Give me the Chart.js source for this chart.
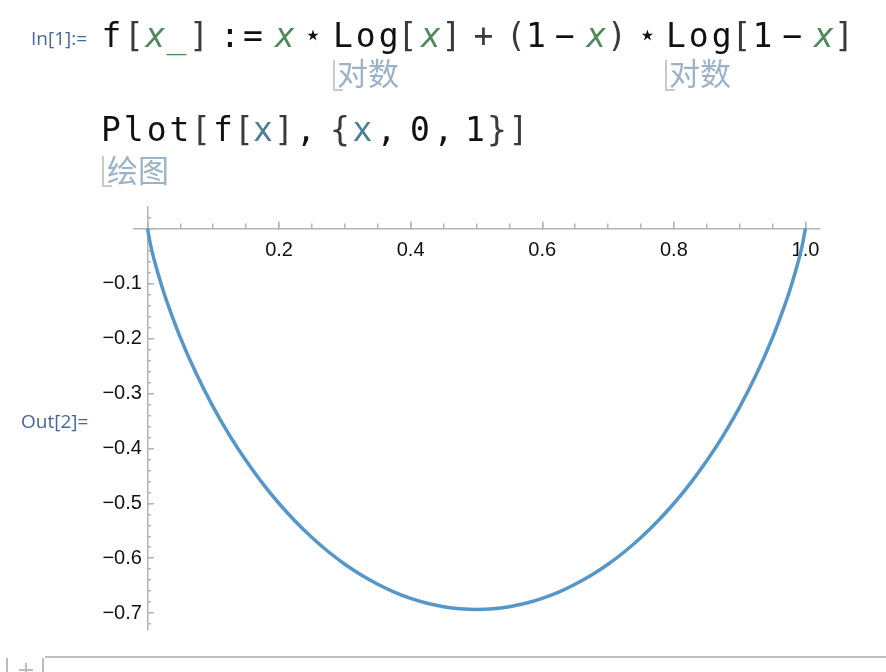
<!DOCTYPE html>
<html>
<head>
<meta charset="utf-8">
<script src="https://cdn.jsdelivr.net/npm/chart.js@4.4.1/dist/chart.umd.min.js"></script>
<style>
  html, body { margin: 0; padding: 0; background: #fff; }
  body { width: 886px; height: 672px; position: relative; overflow: hidden; }
  #plot { position: absolute; left: 0; top: 0; }
  .t { position: absolute; white-space: pre; }
  .code { font-family: "DejaVu Sans Mono", monospace; font-size: 33px; line-height: 32px; color: #111; transform: translateX(-50%); }
  .word { transform: none; letter-spacing: 3px; }
  .brk { color: #3a3a3a; }
  .var { color: #4e8a58; font-style: italic; }
  .sym { color: #4a7f96; }
  .hint { font-family: "Noto Sans CJK SC", sans-serif; font-size: 31px; line-height: 30px; color: #9cb3c7; }
  .hook { position: absolute; width: 8px; height: 29px; border-left: 2px solid #c9c9c9; border-bottom: 2px solid #c9c9c9; }
  .label { font-family: "Open Sans", sans-serif; font-size: 19px; line-height: 19px; color: #46689a; }
  .rule { position: absolute; background: #bcbcbc; }
</style>
</head>
<body>
<canvas id="plot" width="886" height="672"></canvas>
<div id="notebook"></div>
<script>
// values
const xValues = [0, 0.005, 0.01, 0.02, 0.03, 0.05, 0.075, 0.1, 0.125, 0.15, 0.175, 0.2, 0.225, 0.25, 0.275,
  0.3, 0.325, 0.35, 0.375, 0.4, 0.425, 0.45, 0.475, 0.5, 0.525, 0.55, 0.575, 0.6, 0.625, 0.65, 0.675,
  0.7, 0.725, 0.75, 0.775, 0.8, 0.825, 0.85, 0.875, 0.9, 0.925, 0.95, 0.97, 0.98, 0.99, 0.995, 1];
const yValues = [0, -0.0315, -0.0560, -0.0980, -0.1347, -0.1985, -0.2664, -0.3251, -0.3768, -0.4227, -0.4637, -0.5004, -0.5332, -0.5623, -0.5882,
  -0.6109, -0.6306, -0.6474, -0.6616, -0.6730, -0.6819, -0.6881, -0.6919, -0.6931, -0.6919, -0.6881, -0.6819, -0.6730, -0.6616, -0.6474, -0.6306,
  -0.6109, -0.5882, -0.5623, -0.5332, -0.5004, -0.4637, -0.4227, -0.3768, -0.3251, -0.2664, -0.1985, -0.1347, -0.0980, -0.0560, -0.0315, 0];
const xTickLabels = ['0.2', '0.4', '0.6', '0.8', '1.0'];
const yTickLabels = ['\u22120.1', '\u22120.2', '\u22120.3', '\u22120.4', '\u22120.5', '\u22120.6', '\u22120.7'];

const axisColor = '#b4b4b4';
const tickFont = { family: '"Liberation Sans", Arial, sans-serif', size: 20 };

// notebook text around the plot
const line1 = [
  ['f', 111.5], ['[', 134, 'brk'], ['x', 155.5, 'var'], ['_', 176.5, 'var'], [']', 199, 'brk'],
  [':', 230], ['=', 253], ['x', 285, 'var'], ['\u22c6', 313], ['Log', 333, 'word'], ['[', 407.5, 'brk'],
  ['x', 431, 'var'], [']', 451.5, 'brk'], ['+', 483.5, 'brk'], ['(', 516, 'brk'], ['1', 536],
  ['\u2212', 565], ['x', 596.5, 'var'], [')', 617, 'brk'], ['\u22c6', 647.5], ['Log', 666, 'word'],
  ['[', 741.5, 'brk'], ['1', 762.5], ['\u2212', 792.5], ['x', 824, 'var'], [']', 844, 'brk']
];
const line2 = [
  ['Plot', 101, 'word'], ['[', 201, 'brk'], ['f', 223], ['[', 244, 'brk'], ['x', 263, 'sym'], [']', 284, 'brk'],
  [',', 306], ['{', 340, 'brk'], ['x', 362.5, 'sym'], [',', 386.5], ['0', 420], [',', 443.5], ['1', 475],
  ['}', 497, 'brk'], [']', 518.5, 'brk']
];

const nb = document.getElementById('notebook');
function put(cls, text, left, top) {
  const d = document.createElement('div');
  d.className = 't ' + cls;
  d.textContent = text;
  d.style.left = left + 'px';
  d.style.top = top + 'px';
  nb.appendChild(d);
  return d;
}
function box(cls, left, top, w, h) {
  const d = document.createElement('div');
  d.className = cls;
  d.style.left = left + 'px';
  d.style.top = top + 'px';
  if (w) d.style.width = w + 'px';
  if (h) d.style.height = h + 'px';
  nb.appendChild(d);
}
line1.forEach(t => put('code ' + (t[2] || ''), t[0], t[1], 20));
line2.forEach(t => put('code ' + (t[2] || ''), t[0], t[1], 114));
put('label', 'In[1]:=', 31, 29);
put('label', 'Out[2]=', 21, 412);
put('hint', '对数', 337, 57);
put('hint', '对数', 669, 57);
put('hint', '绘图', 107, 154);
box('hook', 333, 60);
box('hook', 665, 60);
box('hook', 102, 156);
box('rule', 45, 656, 841, 2);
box('rule', 6, 658, 2, 14);
box('rule', 42, 658, 2, 14);
box('rule', 19, 669, 14, 2);
box('rule', 25, 663, 2, 9);

// the plot itself
const ctx = document.getElementById('plot').getContext('2d');
new Chart(ctx, {
  type: 'line',
  data: {
    datasets: [{
      data: xValues.map((x, i) => ({ x: x, y: yValues[i] })),
      borderColor: '#5597c9',
      borderWidth: 3.5,
      pointRadius: 0,
      fill: false,
      tension: 0.4
    }]
  },
  options: {
    responsive: false,
    animation: false,
    devicePixelRatio: 1,
    layout: { padding: { left: 133.3, right: 66.4, top: 207, bottom: 42.3 } },
    plugins: { legend: { display: false }, tooltip: { enabled: false } },
    scales: {
      x: {
        type: 'linear', min: -0.0215, max: 1.0215, position: { y: 0 },
        grid: { drawOnChartArea: false, tickLength: -8, color: axisColor, lineWidth: 1.5 },
        border: { color: axisColor, width: 1.5 },
        ticks: {
          stepSize: 0.2, includeBounds: false, maxTicksLimit: 100, autoSkip: false, maxRotation: 0,
          padding: 18, font: tickFont, color: '#111',
          callback: v => xTickLabels[Math.round(v / 0.2) - 1] || ''
        }
      },
      xMinor: {
        type: 'linear', axis: 'x', min: -0.0215, max: 1.0215, position: { y: 0 },
        grid: { drawOnChartArea: false, tickLength: -4.5, color: axisColor, lineWidth: 1.5 },
        border: { display: false },
        ticks: { stepSize: 0.05, includeBounds: false, maxTicksLimit: 100, autoSkip: false, display: false }
      },
      y: {
        type: 'linear', min: -0.73, max: 0.039, position: { x: 0 },
        grid: { drawOnChartArea: false, tickLength: -7, color: axisColor, lineWidth: 1.5 },
        border: { color: axisColor, width: 1.5 },
        ticks: {
          stepSize: 0.1, includeBounds: false, maxTicksLimit: 100, autoSkip: false,
          padding: 0, font: tickFont, color: '#111',
          callback: v => {
            const lab = yTickLabels[Math.round(-v / 0.1) - 1];
            return lab ? lab + ' ' : '';
          }
        }
      },
      yMinor: {
        type: 'linear', axis: 'y', min: -0.73, max: 0.039, position: { x: 0 },
        grid: { drawOnChartArea: false, tickLength: -4, color: axisColor, lineWidth: 1.5 },
        border: { display: false },
        ticks: { stepSize: 0.02, includeBounds: false, maxTicksLimit: 100, autoSkip: false, display: false }
      }
    }
  }
});
</script>
</body>
</html>
